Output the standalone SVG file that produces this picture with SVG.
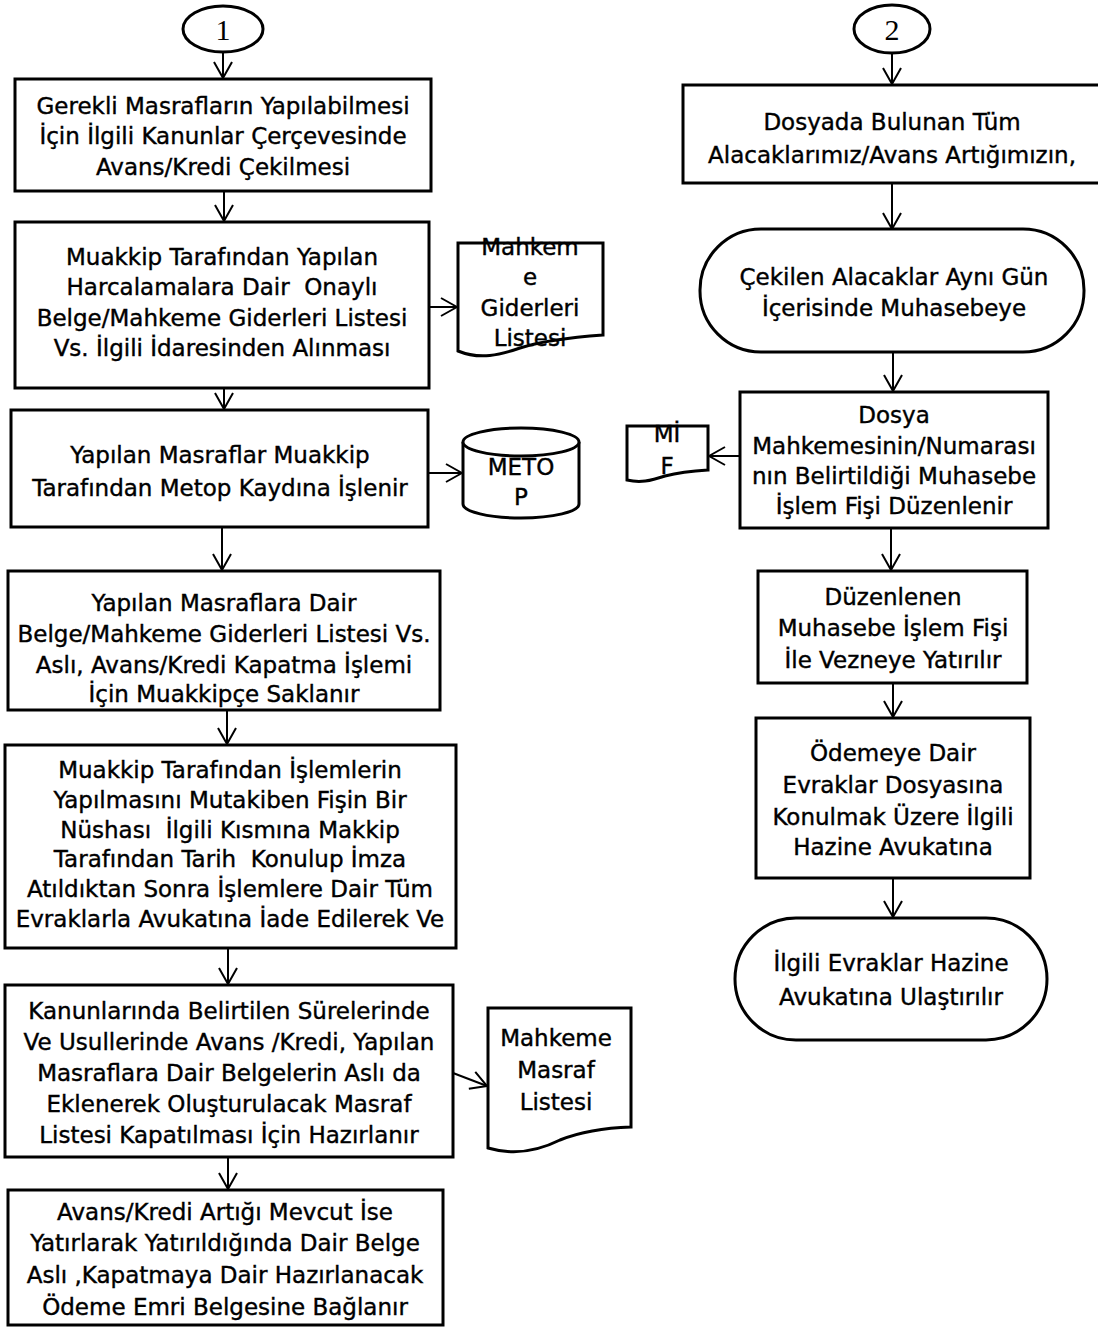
<svg xmlns="http://www.w3.org/2000/svg" width="1098" height="1328" viewBox="0 0 1098 1328">
<defs>
<style>
.bx{fill:#fff;stroke:#000;stroke-width:3}
.t{font-family:"DejaVu Sans",Verdana,sans-serif;font-size:23px;fill:#000;stroke:#000;stroke-width:0.4;text-anchor:middle;white-space:pre}
.n{font-family:"Liberation Serif","Times New Roman",serif;font-size:30px;fill:#000;text-anchor:middle}
.c{fill:none;stroke:#000;stroke-width:2}
</style>
<marker id="ah" viewBox="0 0 18 20" refX="17" refY="10" markerWidth="18" markerHeight="20" markerUnits="userSpaceOnUse" orient="auto">
<path d="M1,1 L17,10 L1,19" fill="none" stroke="#000" stroke-width="2"/>
</marker>
</defs>
<rect width="1098" height="1328" fill="#fff"/>

<g id="connectors">
<path class="c" marker-end="url(#ah)" d="M223,52 V78"/>
<path class="c" marker-end="url(#ah)" d="M224,191 V221"/>
<path class="c" marker-end="url(#ah)" d="M429,307 H457"/>
<path class="c" marker-end="url(#ah)" d="M224,388 V409"/>
<path class="c" marker-end="url(#ah)" d="M428,473 H462"/>
<path class="c" marker-end="url(#ah)" d="M222,527 V570"/>
<path class="c" marker-end="url(#ah)" d="M227,710 V744"/>
<path class="c" marker-end="url(#ah)" d="M228,948 V984"/>
<path class="c" marker-end="url(#ah)" d="M453,1073 L487,1086"/>
<path class="c" marker-end="url(#ah)" d="M228,1157 V1189"/>
<path class="c" marker-end="url(#ah)" d="M892,53 V84"/>
<path class="c" marker-end="url(#ah)" d="M892,183 V229"/>
<path class="c" marker-end="url(#ah)" d="M893,352 V391"/>
<path class="c" marker-end="url(#ah)" d="M740,456 H709"/>
<path class="c" marker-end="url(#ah)" d="M891,528 V570"/>
<path class="c" marker-end="url(#ah)" d="M893,683 V717"/>
<path class="c" marker-end="url(#ah)" d="M893,878 V917"/>
</g>

<g id="c1">
<ellipse class="bx" cx="223" cy="29" rx="40" ry="23"/>
<text class="n" x="223" y="40">1</text>
</g>
<g id="c2">
<ellipse class="bx" cx="892" cy="29" rx="38" ry="24"/>
<text class="n" x="892" y="40">2</text>
</g>

<g id="b1">
<rect class="bx" x="15" y="79" width="416" height="112"/>
<text class="t" x="223" y="114">Gerekli Masrafların Yapılabilmesi</text>
<text class="t" x="223" y="144">İçin İlgili Kanunlar Çerçevesinde</text>
<text class="t" x="223" y="175">Avans/Kredi Çekilmesi</text>
</g>

<g id="b2">
<rect class="bx" x="15" y="222" width="414" height="166"/>
<text class="t" x="222" y="265">Muakkip Tarafından Yapılan</text>
<text class="t" x="222" y="295">Harcalamalara Dair  Onaylı</text>
<text class="t" x="222" y="326">Belge/Mahkeme Giderleri Listesi</text>
<text class="t" x="222" y="356">Vs. İlgili İdaresinden Alınması</text>
</g>

<g id="d1">
<path class="bx" d="M458,243 H603 V335 C575,337 545,340 520,348 C500,355 480,360 458,351 Z"/>
<text class="t" x="530" y="255">Mahkem</text>
<text class="t" x="530" y="285">e</text>
<text class="t" x="530" y="316">Giderleri</text>
<text class="t" x="530" y="346">Listesi</text>
</g>

<g id="b3">
<rect class="bx" x="11" y="410" width="417" height="117"/>
<text class="t" x="220" y="463">Yapılan Masraflar Muakkip</text>
<text class="t" x="220" y="496">Tarafından Metop Kaydına İşlenir</text>
</g>

<g id="db">
<path class="bx" d="M463,442 V504 A58,14 0 0,0 579,504 V442"/>
<ellipse class="bx" cx="521" cy="442" rx="58" ry="14"/>
<text class="t" x="521" y="475">METO</text>
<text class="t" x="521" y="505">P</text>
</g>

<g id="b4">
<rect class="bx" x="8" y="571" width="432" height="139"/>
<text class="t" x="224" y="611">Yapılan Masraflara Dair</text>
<text class="t" x="224" y="642">Belge/Mahkeme Giderleri Listesi Vs.</text>
<text class="t" x="224" y="673">Aslı, Avans/Kredi Kapatma İşlemi</text>
<text class="t" x="224" y="702">İçin Muakkipçe Saklanır</text>
</g>

<g id="b5">
<rect class="bx" x="5" y="745" width="451" height="203"/>
<text class="t" x="230" y="778">Muakkip Tarafından İşlemlerin</text>
<text class="t" x="230" y="808">Yapılmasını Mutakiben Fişin Bir</text>
<text class="t" x="230" y="838">Nüshası  İlgili Kısmına Makkip</text>
<text class="t" x="230" y="867">Tarafından Tarih  Konulup İmza</text>
<text class="t" x="230" y="897">Atıldıktan Sonra İşlemlere Dair Tüm</text>
<text class="t" x="230" y="927">Evraklarla Avukatına İade Edilerek Ve</text>
</g>

<g id="b6">
<rect class="bx" x="5" y="985" width="448" height="172"/>
<text class="t" x="229" y="1019">Kanunlarında Belirtilen Sürelerinde</text>
<text class="t" x="229" y="1050">Ve Usullerinde Avans /Kredi, Yapılan</text>
<text class="t" x="229" y="1081">Masraflara Dair Belgelerin Aslı da</text>
<text class="t" x="229" y="1112">Eklenerek Oluşturulacak Masraf</text>
<text class="t" x="229" y="1143">Listesi Kapatılması İçin Hazırlanır</text>
</g>

<g id="d2">
<path class="bx" d="M488,1008 H631 V1127 C600,1128 580,1132 560,1140 C540,1150 515,1156 488,1148 Z"/>
<text class="t" x="556" y="1046">Mahkeme</text>
<text class="t" x="556" y="1078">Masraf</text>
<text class="t" x="556" y="1110">Listesi</text>
</g>

<g id="b7">
<rect class="bx" x="8" y="1190" width="435" height="135"/>
<text class="t" x="225" y="1220">Avans/Kredi Artığı Mevcut İse</text>
<text class="t" x="225" y="1251">Yatırlarak Yatırıldığında Dair Belge</text>
<text class="t" x="225" y="1283">Aslı ,Kapatmaya Dair Hazırlanacak</text>
<text class="t" x="225" y="1315">Ödeme Emri Belgesine Bağlanır</text>
</g>

<g id="r1">
<rect class="bx" x="683" y="85" width="420" height="98"/>
<text class="t" x="892" y="130">Dosyada Bulunan Tüm</text>
<text class="t" x="892" y="163">Alacaklarımız/Avans Artığımızın,</text>
</g>

<g id="r2">
<rect class="bx" x="700" y="229" width="384" height="123" rx="61" ry="61"/>
<text class="t" x="894" y="285">Çekilen Alacaklar Aynı Gün</text>
<text class="t" x="894" y="316">İçerisinde Muhasebeye</text>
</g>

<g id="r3">
<rect class="bx" x="740" y="392" width="308" height="136"/>
<text class="t" x="894" y="423">Dosya</text>
<text class="t" x="894" y="454">Mahkemesinin/Numarası</text>
<text class="t" x="894" y="484">nın Belirtildiği Muhasebe</text>
<text class="t" x="894" y="514">İşlem Fişi Düzenlenir</text>
</g>

<g id="mif">
<path class="bx" d="M627,426 H708 V470 C690,471 680,472 665,476 C650,481 640,483 627,480 Z"/>
<text class="t" x="667" y="442">Mİ</text>
<text class="t" x="667" y="474">F</text>
</g>

<g id="r4">
<rect class="bx" x="758" y="571" width="269" height="112"/>
<text class="t" x="893" y="605">Düzenlenen</text>
<text class="t" x="893" y="636">Muhasebe İşlem Fişi</text>
<text class="t" x="893" y="668">İle Vezneye Yatırılır</text>
</g>

<g id="r5">
<rect class="bx" x="756" y="718" width="274" height="160"/>
<text class="t" x="893" y="761">Ödemeye Dair</text>
<text class="t" x="893" y="793">Evraklar Dosyasına</text>
<text class="t" x="893" y="825">Konulmak Üzere İlgili</text>
<text class="t" x="893" y="855">Hazine Avukatına</text>
</g>

<g id="r6">
<rect class="bx" x="735" y="918" width="312" height="122" rx="61" ry="61"/>
<text class="t" x="891" y="971">İlgili Evraklar Hazine</text>
<text class="t" x="891" y="1005">Avukatına Ulaştırılır</text>
</g>
</svg>
